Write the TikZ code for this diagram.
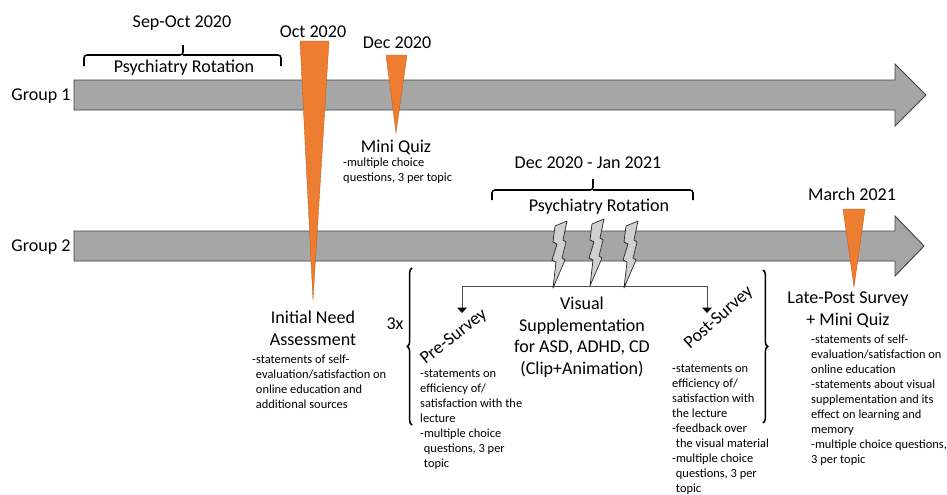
\documentclass[tikz,border=0pt]{standalone}
\usepackage{fontspec}
\setmainfont{Carlito}
\usetikzlibrary{arrows.meta,decorations.pathreplacing}
\definecolor{barGray}{RGB}{166,166,166}
\definecolor{barEdge}{RGB}{64,64,64}
\definecolor{mOrange}{RGB}{237,125,49}
\definecolor{mEdge}{RGB}{197,90,17}
\definecolor{boltGray}{RGB}{208,208,208}
\newcommand\bigtxt{\fontsize{15.4}{18.4}\selectfont}
\newcommand\notetxt{\fontsize{10.6}{12.8}\selectfont}
\newcommand\ind{\hspace*{0.3em}}

\begin{document}
\begin{tikzpicture}[x=0.03cm, y=-0.03cm,
  bar/.style={fill=barGray, draw=barEdge, line width=0.8pt},
  marker/.style={fill=mOrange, draw=mEdge, line width=0.3pt},
  bolt/.style={fill=boltGray, draw=black!85, line width=0.6pt, line join=round},
  brk/.style={line width=1.3pt, rounded corners=2.5pt},
  vbrace/.style={line width=1.3pt, decorate, decoration={brace, amplitude=4pt}},
  lbl/.style={font=\bigtxt, inner sep=0pt, anchor=base},
  ttl/.style={font=\bigtxt, inner sep=0pt, align=center, anchor=north},
  note/.style={font=\notetxt, inner sep=0pt, align=left, anchor=north west},
  link/.style={draw=black!70, line width=0.6pt, >={Triangle[width=8pt,length=4.5pt,color=black]}}]
\useasboundingbox (0,0) rectangle (947,494);
% zwei Zeitachsen
\draw[bar] (74,80) -- (895,80) -- (895,64) -- (926,95) -- (895,126) -- (895,110) -- (74,110) -- cycle;
\draw[bar] (74,231) -- (895,231) -- (895,216) -- (924,246) -- (895,276) -- (895,261) -- (74,261) -- cycle;
\node[lbl] (g1) at (41,100) {Group 1};
\node[lbl] (g2) at (41,251) {Group 2};
% Gruppe 1: Rotation, Bedarfsanalyse, Mini Quiz
\draw[brk] (84,66) |- (183,55) -- (183,45);
\draw[brk] (281,66) |- (183,55);
\node[lbl] (sepoct) at (182,27) {Sep-Oct 2020};
\node[lbl] (rot1) at (184,72) {Psychiatry Rotation};
\draw[marker] (300,41) -- (329,41) -- (313,300) -- cycle;
\draw[marker] (386,55) -- (407,55) -- (396,133) -- cycle;
\node[lbl] (oct) at (313,37) {Oct 2020};
\node[lbl] (dec) at (397,48) {Dec 2020};
\node[lbl] (mq1) at (396,152) {Mini Quiz};
\node[note] (mq1note) at (343,158) {-multiple choice\\questions, 3 per topic};
\node[ttl] (initial) at (313,311) {Initial Need\\Assessment};
\node[note] (initnote) at (252,355) {-statements of self-\\\ind evaluation/satisfaction on\\\ind online education and\\\ind additional sources};
% Gruppe 2: Rotation mit Visualisierung
\draw[brk] (492,200) |- (593,190) -- (593,179);
\draw[brk] (693,200) |- (593,190);
\node[lbl] (decjan) at (588,168) {Dec 2020 - Jan 2021};
\node[lbl] (rot2) at (599,211) {Psychiatry Rotation};
\coordinate (linkL) at (462,286);
\coordinate (linkR) at (707,286);
\coordinate (preTip) at (462,313);
\coordinate (postTip) at (707,313);
\draw[link, <->] (preTip) -- (linkL) -- (linkR) -- (postTip);
\foreach \bx/\by in {553/288, 590/286, 624/288}
  \draw[bolt, shift={(\bx,\by)}] (0,0) -- (3,-26) -- (-1,-28) -- (4,-44) -- (0,-46) -- (2,-62) -- (14,-67) -- (10,-48) -- (13,-46) -- (9,-30) -- (12,-28) -- cycle;
\draw[vbrace] (412,425) -- (412,268);
\draw[vbrace] (763,270) -- (763,423);
\node[lbl] (times) at (395,329) {3x};
\node[font=\bigtxt, inner sep=0pt, rotate=38] (pre) at (454,337) {Pre-Survey};
\node[font=\bigtxt, inner sep=0pt, rotate=42] (post) at (719,318) {Post-Survey};
\node[ttl] (visual) at (582,297) {Visual\\Supplementation\\for ASD, ADHD, CD\\(Clip+Animation)};
\node[note] (prenote) at (420,369) {-statements on\\efficiency of/\\satisfaction with the\\lecture\\-multiple choice\\\ind questions, 3 per\\\ind topic};
\node[note] (postnote) at (672,364) {-statements on\\efficiency of/\\satisfaction with\\the lecture\\-feedback over\\\ind the visual material\\-multiple choice\\\ind questions, 3 per\\\ind topic};
% Nachbefragung
\draw[marker] (843,209) -- (865,209) -- (854,287) -- cycle;
\node[lbl] (march) at (852,200) {March 2021};
\node[ttl] (late) at (848,292) {Late-Post Survey\\+ Mini Quiz};
\node[note] (latenote) at (811,335) {-statements of self-\\evaluation/satisfaction on\\online education\\-statements about visual\\supplementation and its\\effect on learning and\\memory\\-multiple choice questions,\\3 per topic};
\end{tikzpicture}
\end{document}
